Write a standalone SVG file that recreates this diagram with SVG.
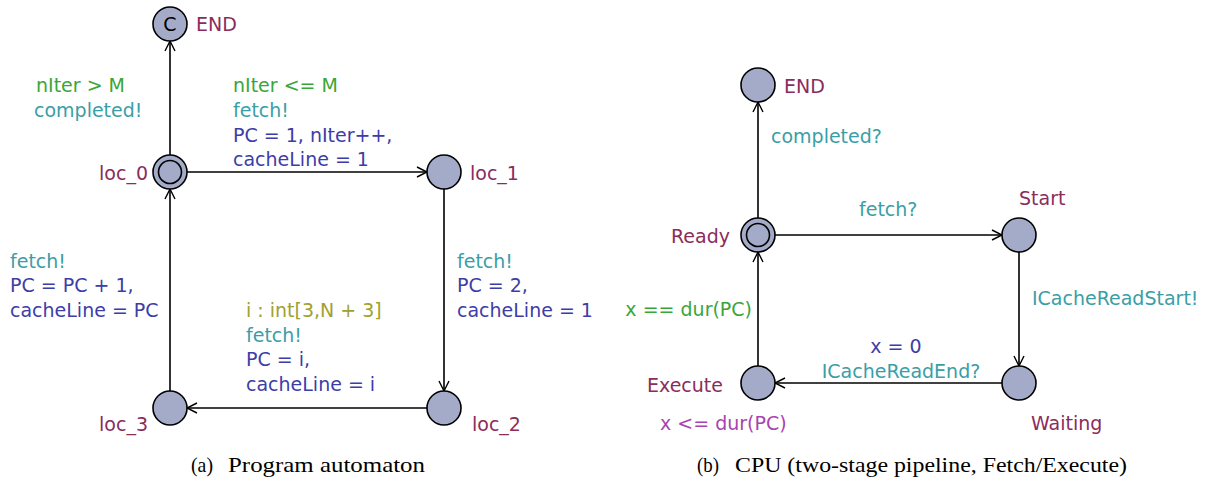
<svg xmlns="http://www.w3.org/2000/svg" width="1208" height="478" viewBox="0 0 1208 478">
<defs>
<marker id="arr" viewBox="-12 -7 14 14" refX="0" refY="0" markerWidth="14" markerHeight="14" markerUnits="userSpaceOnUse" orient="auto">
<path d="M -10 -5 L 0 0 L -10 5" fill="none" stroke="#000" stroke-width="1.4"/>
</marker>
<style>
text{font-family:"DejaVu Sans","Liberation Sans",sans-serif;font-size:19px}
.loc{fill:#a3abc9;stroke:#000;stroke-width:1.6}
.in{fill:none;stroke:#000;stroke-width:1.6}
.edge{stroke:#000;stroke-width:1.6;fill:none;marker-end:url(#arr)}
.name{fill:#8a2d5c}
.guard{fill:#3aa63a}
.sync{fill:#3a9ea6}
.upd{fill:#3d3da8}
.sel{fill:#a0a032}
.inv{fill:#a844b0}
.cap{font-family:"Liberation Serif","Times New Roman",serif;font-size:21.5px;fill:#000}
</style>
</defs>
<g id="connectors">
<line class="edge" x1="170" y1="155" x2="170" y2="41"/>
<line class="edge" x1="187" y1="172" x2="427" y2="172"/>
<line class="edge" x1="444" y1="189" x2="444" y2="391"/>
<line class="edge" x1="427" y1="408" x2="187" y2="408"/>
<line class="edge" x1="170" y1="391" x2="170" y2="189"/>
<line class="edge" x1="758" y1="218" x2="758" y2="102"/>
<line class="edge" x1="775" y1="235" x2="1002" y2="235"/>
<line class="edge" x1="1019" y1="252" x2="1019" y2="366"/>
<line class="edge" x1="1002" y1="383" x2="775" y2="383"/>
<line class="edge" x1="758" y1="366" x2="758" y2="252"/>
</g>
<g id="edge-labels">
<text class="guard" x="36" y="92">nIter &gt; M</text>
<text class="sync" x="34" y="117">completed!</text>
<text class="guard" x="233" y="92">nIter &lt;= M</text>
<text class="sync" x="233" y="117">fetch!</text>
<text class="upd" x="233" y="142">PC = 1, nIter++,</text>
<text class="upd" x="233" y="166">cacheLine = 1</text>
<text class="sync" x="457" y="268">fetch!</text>
<text class="upd" x="457" y="292">PC = 2,</text>
<text class="upd" x="457" y="317">cacheLine = 1</text>
<text class="sel" x="246" y="317">i : int[3,N + 3]</text>
<text class="sync" x="246" y="342">fetch!</text>
<text class="upd" x="246" y="366">PC = i,</text>
<text class="upd" x="246" y="391">cacheLine = i</text>
<text class="sync" x="10" y="268">fetch!</text>
<text class="upd" x="10" y="292">PC = PC + 1,</text>
<text class="upd" x="10" y="317">cacheLine = PC</text>
<text class="sync" x="771" y="143">completed?</text>
<text class="sync" x="859" y="216">fetch?</text>
<text class="sync" x="1032" y="305">ICacheReadStart!</text>
<text class="upd" x="896" y="353" text-anchor="middle">x = 0</text>
<text class="sync" x="901" y="378" text-anchor="middle">ICacheReadEnd?</text>
<text class="guard" x="752" y="316" text-anchor="end">x == dur(PC)</text>
</g>
<g id="a_END">
<circle class="loc" cx="170" cy="24" r="17"/>
<text x="170" y="31" text-anchor="middle" fill="#000" font-size="19">C</text>
<text class="name" x="196" y="31">END</text>
</g>
<g id="a_loc_0">
<circle class="loc" cx="170" cy="172" r="17"/>
<circle class="in" cx="170" cy="172" r="11.5"/>
<text class="name" x="148" y="180" text-anchor="end">loc_0</text>
</g>
<g id="a_loc_1">
<circle class="loc" cx="444" cy="172" r="17"/>
<text class="name" x="470" y="180">loc_1</text>
</g>
<g id="a_loc_2">
<circle class="loc" cx="444" cy="408" r="17"/>
<text class="name" x="472" y="431">loc_2</text>
</g>
<g id="a_loc_3">
<circle class="loc" cx="170" cy="408" r="17"/>
<text class="name" x="148" y="431" text-anchor="end">loc_3</text>
</g>
<g id="b_END">
<circle class="loc" cx="758" cy="85" r="17"/>
<text class="name" x="784" y="93">END</text>
</g>
<g id="b_Ready">
<circle class="loc" cx="758" cy="235" r="17"/>
<circle class="in" cx="758" cy="235" r="11.5"/>
<text class="name" x="730" y="243" text-anchor="end">Ready</text>
</g>
<g id="b_Start">
<circle class="loc" cx="1019" cy="235" r="17"/>
<text class="name" x="1019" y="205">Start</text>
</g>
<g id="b_Waiting">
<circle class="loc" cx="1019" cy="383" r="17"/>
<text class="name" x="1031" y="430">Waiting</text>
</g>
<g id="b_Execute">
<circle class="loc" cx="758" cy="383" r="17"/>
<text class="name" x="723" y="392" text-anchor="end">Execute</text>
<text class="inv" x="660" y="430">x &lt;= dur(PC)</text>
</g>
<g id="captions">
<text class="cap" x="191" y="472" textLength="22" lengthAdjust="spacingAndGlyphs">(a)</text>
<text class="cap" x="228" y="472" textLength="197" lengthAdjust="spacingAndGlyphs">Program automaton</text>
<text class="cap" x="697" y="472" textLength="22" lengthAdjust="spacingAndGlyphs">(b)</text>
<text class="cap" x="735" y="472" textLength="392" lengthAdjust="spacingAndGlyphs">CPU (two-stage pipeline, Fetch/Execute)</text>
</g>
</svg>
